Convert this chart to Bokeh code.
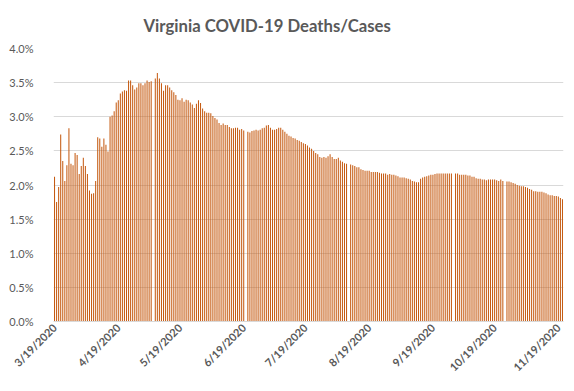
import math
from bokeh.plotting import figure
from bokeh.models import ColumnDataSource, FixedTicker, NumeralTickFormatter, Range1d
from bokeh.embed import file_html
from bokeh.resources import INLINE
import pandas as pd

NaN = float("nan")

# Daily deaths/cases ratio (%), starting 3/19/2020; NaN = no value reported that day
ratio_pct = [
    2.12, 1.75, 1.97, 2.74, 2.35, 2.06, 2.29, 2.83, 2.31, 2.29, 2.47, 2.44, 2.16, 2.28, 2.40, 2.28,
    2.16, 1.92, 1.87, 1.88, 2.06, 2.70, 2.68, 2.56, 2.68, 2.59, 2.49, 3.00, 3.02, 3.08, 3.21, 3.24,
    3.34, 3.37, 3.39, 3.38, 3.53, 3.53, 3.46, 3.40, 3.43, 3.49, 3.49, 3.46, 3.49, 3.53, 3.51, 3.52,
    NaN,
    3.56, 3.64, 3.56, 3.49, 3.38, 3.46, 3.46, 3.43, 3.39, 3.36, 3.32, 3.25, 3.24,
    3.27, 3.22, 3.25, 3.24, 3.21, 3.18, 3.13, 3.19, 3.24, 3.20, 3.12, 3.08, 3.06, 3.06, 3.05, 3.01,
    2.98, 2.96, 2.91, 2.88, 2.90, 2.88, 2.88, 2.85, 2.83, 2.83, 2.84, 2.84, 2.81, 2.82, 2.80,
    NaN,
    2.78, 2.77, 2.79, 2.80, 2.81, 2.80, 2.81, 2.83, 2.84, 2.87, 2.88, 2.84, 2.81, 2.81, 2.82, 2.84,
    2.84, 2.81, 2.78, 2.75, 2.72, 2.71, 2.69, 2.68, 2.66, 2.65, 2.63, 2.61,
    2.60, 2.58, 2.55, 2.53, 2.50, 2.47, 2.45, 2.41, 2.40, 2.41, 2.40, 2.42, 2.45, 2.41, 2.38, 2.38,
    2.40, 2.36, 2.34, 2.32, 2.31,
    NaN,
    2.30, 2.29, 2.28, 2.26, 2.26, 2.23, 2.22, 2.21, 2.21, 2.21, 2.19, 2.19, 2.19, 2.19, 2.18, 2.17,
    2.17, 2.17, 2.15, 2.16, 2.15, 2.15, 2.14, 2.13, 2.11, 2.11, 2.11, 2.10, 2.09, 2.08, 2.06, 2.05,
    2.04, 2.04, 2.09, 2.11, 2.12, 2.13, 2.14,
    2.15, 2.15, 2.16, 2.17, 2.17, 2.17, 2.17, 2.17, 2.17, 2.17, 2.17,
    NaN,
    2.17, 2.17, 2.15, 2.15, 2.15, 2.15, 2.14, 2.14, 2.12, 2.12, 2.10, 2.09, 2.09, 2.08, 2.08, 2.07,
    2.08, 2.08, 2.08, 2.08, 2.07, 2.06, 2.08, 2.06,
    NaN,
    2.05, 2.05, 2.04, 2.03, 2.02, 2.00, 1.99, 1.98, 1.98, 1.97, 1.96, 1.94, 1.93, 1.91, 1.91, 1.90,
    1.90, 1.90, 1.89, 1.88, 1.86, 1.85, 1.85, 1.84, 1.84, 1.83, 1.81, 1.79,
]

start_date = "2020-03-19"
tick_dates = ["2020-03-19", "2020-04-19", "2020-05-19", "2020-06-19", "2020-07-19",
              "2020-08-19", "2020-09-19", "2020-10-19", "2020-11-19"]
tick_labels = ["3/19/2020", "4/19/2020", "5/19/2020", "6/19/2020", "7/19/2020",
               "8/19/2020", "9/19/2020", "10/19/2020", "11/19/2020"]
y_ticks = [0.0, 0.005, 0.01, 0.015, 0.02, 0.025, 0.03, 0.035, 0.04]
title_text = "Virginia COVID-19 Deaths/Cases"

dates = pd.date_range(start_date, periods=len(ratio_pct), freq="D")
day_index = list(range(len(ratio_pct)))
source = ColumnDataSource(dict(x=day_index, top=[v / 100.0 for v in ratio_pct],
                               date=[d.strftime("%m/%d/%Y") for d in dates]))

t0 = pd.Timestamp(start_date)
tick_pos = [(pd.Timestamp(d) - t0).days for d in tick_dates]

FONT = "Lato"
GRAY = "#595959"

p = figure(width=574, height=391, output_backend="svg", toolbar_location=None,
           x_range=Range1d(-0.5, len(ratio_pct) - 0.5), y_range=Range1d(0, 0.04),
           min_border_left=53, min_border_right=11, min_border_top=48, min_border_bottom=70,
           title=title_text)
p.outline_line_color = None
p.background_fill_color = "white"
p.border_fill_color = "white"

p.title.align = "left"
p.title.offset = 90
p.title.text_font = FONT
p.title.text_font_size = "16.7px"
p.title.text_font_style = "bold"
p.title.text_color = GRAY
p.title.standoff = 25

p.vbar(x="x", top="top", bottom=0, width=0.5, source=source,
       fill_color="#C55A11", line_color=None)

# y axis
p.yaxis.ticker = FixedTicker(ticks=y_ticks)
p.yaxis.formatter = NumeralTickFormatter(format="0.0%")
p.yaxis.axis_line_color = None
p.yaxis.major_tick_line_color = None
p.yaxis.minor_tick_line_color = None
p.yaxis.major_label_standoff = 14
p.yaxis.major_label_text_font = FONT
p.yaxis.major_label_text_font_size = "11px"
p.yaxis.major_label_text_color = GRAY

# x axis
p.xaxis.ticker = FixedTicker(ticks=tick_pos)
p.xaxis.major_label_overrides = {pos: lab for pos, lab in zip(tick_pos, tick_labels)}
p.xaxis.major_label_orientation = math.pi / 4
p.xaxis.axis_line_color = "#D9D9D9"
p.xaxis.major_tick_line_color = None
p.xaxis.major_tick_out = 0
p.xaxis.minor_tick_line_color = None
p.xaxis.minor_tick_out = 0
p.xaxis.major_label_standoff = 4
p.xaxis.major_label_text_font = FONT
p.xaxis.major_label_text_font_size = "11px"
p.xaxis.major_label_text_font_style = "bold"
p.xaxis.major_label_text_color = GRAY

p.xgrid.grid_line_color = None
p.ygrid.grid_line_color = "#D9D9D9"
p.ygrid.grid_line_width = 1

open("out.html", "w").write(file_html(p, INLINE))
